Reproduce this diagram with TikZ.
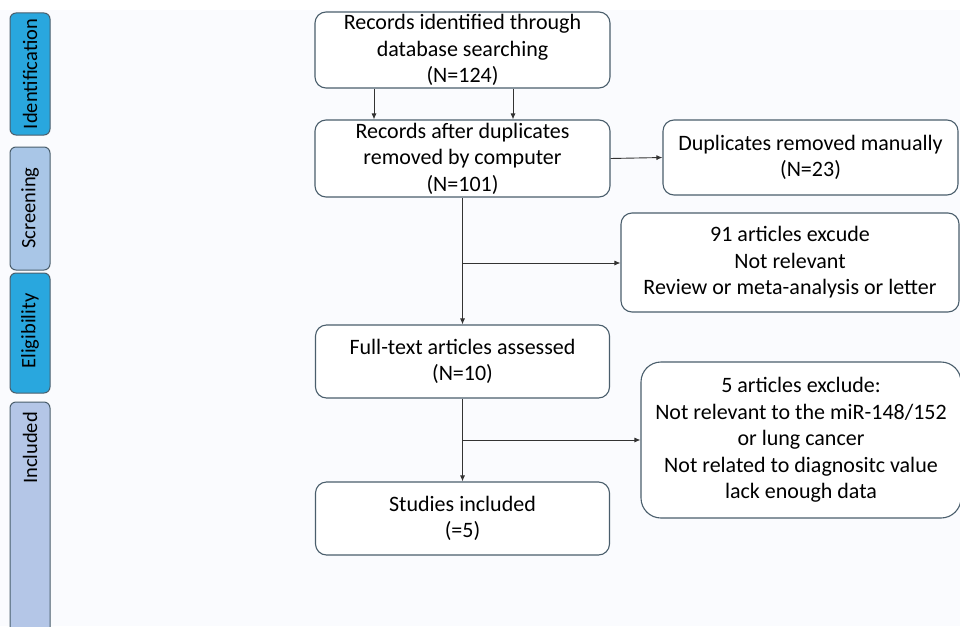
\documentclass[tikz,border=0pt]{standalone}
\usepackage{fontspec}
\setmainfont{Carlito}
\usetikzlibrary{arrows.meta}
\definecolor{tabdark}{HTML}{29A7DE}
\definecolor{tablight}{HTML}{A9C6E7}
\definecolor{tablav}{HTML}{B4C6E7}
\definecolor{edge}{HTML}{4A5E6C}
\definecolor{bg}{HTML}{FAFBFE}
\tikzset{
  box/.style={draw=edge, line width=1.1pt, rounded corners=11pt, fill=white, align=center,
    font=\fontsize{22}{26.5}\selectfont, inner sep=0pt},
  tab/.style={draw=edge, line width=1pt, rounded corners=6pt},
  tablabel/.style={rotate=90, font=\fontsize{20.5}{22}\selectfont, inner sep=0pt},
  conn/.style={draw=black!80, line width=0.9pt},
  arr/.style={conn, -{Latex[length=6pt,width=5pt]}}
}
\begin{document}
\begin{tikzpicture}[x=1pt,y=-1pt]
\useasboundingbox (0,0) rectangle (960,626);
\clip (0,0) rectangle (960,626);
\fill[bg] (0,0) rectangle (960,626);
\fill[white] (0,0) rectangle (960,10);
% side tabs
\draw[tab, fill=tabdark] (10,13) rectangle (50,135);
\node[tablabel] (tid) at (30,74) {Identification};
\draw[tab, fill=tablight] (10,147) rectangle (50,270);
\node[tablabel] (tsc) at (30,208) {Screening};
\draw[tab, fill=tabdark] (10,273) rectangle (50,393);
\node[tablabel] (tel) at (30,331) {Eligibility};
\draw[tab, fill=tablav] (10,402) rectangle (50,660);
\node[tablabel] (tin) at (30,448) {Included};
% boxes
\node[box, minimum width=295pt, minimum height=76pt] (b1) at (462.5,50)
  {Records identified through\\database searching\\(N=124)};
\node[box, minimum width=295pt, minimum height=77pt] (b2) at (462.5,158.5)
  {Records after duplicates\\removed by computer\\(N=101)};
\node[box, minimum width=295pt, minimum height=75pt] (dup) at (810.5,157.5)
  {Duplicates removed manually\\(N=23)};
\node[box, minimum width=338pt, minimum height=99pt] (ex1) at (790,262.5)
  {91 articles excude\\Not relevant\\Review or meta-analysis or letter};
\node[box, minimum width=294pt, minimum height=73pt] (ft) at (462.5,361.5)
  {Full-text articles assessed\\(N=10)};
\node[box, minimum width=294pt, minimum height=73pt] (st) at (462.5,518.5)
  {Studies included\\(=5)};
\node[box, rounded corners=20pt, minimum width=320pt, minimum height=156pt] (ex2) at (801,440)
  {5 articles exclude:\\Not relevant to the miR-148/152\\or lung cancer\\Not related to diagnositc value\\lack enough data};
% connectors
\draw[arr] ([xshift=-88.5pt]b1.south) -- ([xshift=-88.5pt]b2.north);
\draw[arr] ([xshift=50.5pt]b1.south) -- ([xshift=50.5pt]b2.north);
\draw[arr] (b2.east) -- (dup.west);
\coordinate (j1) at (462.5,263);
\draw[conn] (b2.south) -- (j1);
\draw[arr] (j1) -- (ft.north);
\draw[arr] (j1) -- (ex1.west |- j1);
\coordinate (j2) at (462.5,440);
\draw[conn] (ft.south) -- (j2);
\draw[arr] (j2) -- (st.north);
\draw[arr] (j2) -- (ex2.west);
\end{tikzpicture}
\end{document}
